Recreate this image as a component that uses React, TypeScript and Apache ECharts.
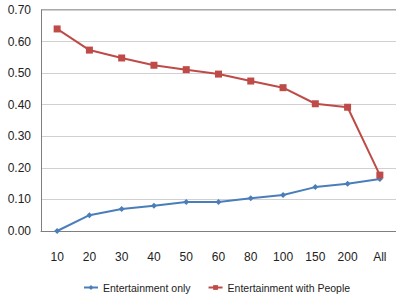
import React, { useEffect, useRef } from "react";
import * as echarts from "echarts";

const categories = ["10", "20", "30", "40", "50", "60", "80", "100", "150", "200", "All"];
const entertainmentOnly = [0.0, 0.05, 0.07, 0.08, 0.092, 0.092, 0.104, 0.114, 0.139, 0.15, 0.165];
const entertainmentWithPeople = [0.64, 0.573, 0.548, 0.525, 0.511, 0.497, 0.475, 0.454, 0.403, 0.392, 0.177];
const seriesNames = ["Entertainment only", "Entertainment with People"];

export default function App() {
  const ref = useRef<HTMLDivElement>(null);
  useEffect(() => {
    const chart = echarts.init(ref.current!, undefined, { renderer: "svg" });
    const font = "'Liberation Sans', Arial, sans-serif";
    chart.setOption({
      animation: false,
      backgroundColor: "#ffffff",
      textStyle: { fontFamily: font },
      grid: { left: 41, top: 10, width: 358, height: 221, containLabel: false },
      legend: {
        bottom: 0,
        left: 78,
        itemGap: 17,
        itemWidth: 14,
        itemHeight: 6,
        textStyle: { fontSize: 10.5, color: "#222", fontFamily: font },
        data: seriesNames,
      },
      xAxis: {
        type: "category",
        data: categories,
        boundaryGap: true,
        axisLine: { show: true, lineStyle: { color: "#7f7f7f", width: 1 } },
        axisTick: { show: false },
        axisLabel: { margin: 20, fontSize: 12, color: "#222", fontFamily: font },
        splitLine: { show: false },
      },
      yAxis: {
        type: "value",
        min: 0,
        max: 0.7,
        interval: 0.1,
        axisLine: { show: true, lineStyle: { color: "#7f7f7f", width: 1 } },
        axisTick: { show: false },
        axisLabel: {
          margin: 10,
          fontSize: 12,
          color: "#222",
          fontFamily: font,
          formatter: (v: number) => v.toFixed(2),
        },
        splitLine: { show: true, lineStyle: { color: "#d0d0d0", width: 1 } },
      },
      series: [
        {
          name: seriesNames[0],
          type: "line",
          data: entertainmentOnly,
          symbol: "diamond",
          symbolSize: 6,
          itemStyle: { color: "#4a7ebb" },
          lineStyle: { color: "#4a7ebb", width: 2 },
        },
        {
          name: seriesNames[1],
          type: "line",
          data: entertainmentWithPeople,
          symbol: "rect",
          symbolSize: 7,
          itemStyle: { color: "#be4b48" },
          lineStyle: { color: "#be4b48", width: 2 },
        },
      ],
      graphic: [
        {
          type: "line",
          shape: { x1: 41, y1: 10, x2: 396, y2: 10 },
          style: { stroke: "#8c8c8c", lineWidth: 1.5 },
        },
      ],
    });
    return () => chart.dispose();
  }, []);
  return <div ref={ref} style={{ width: 396, height: 298, position: "absolute", left: 0, top: 0 }} />;
}
